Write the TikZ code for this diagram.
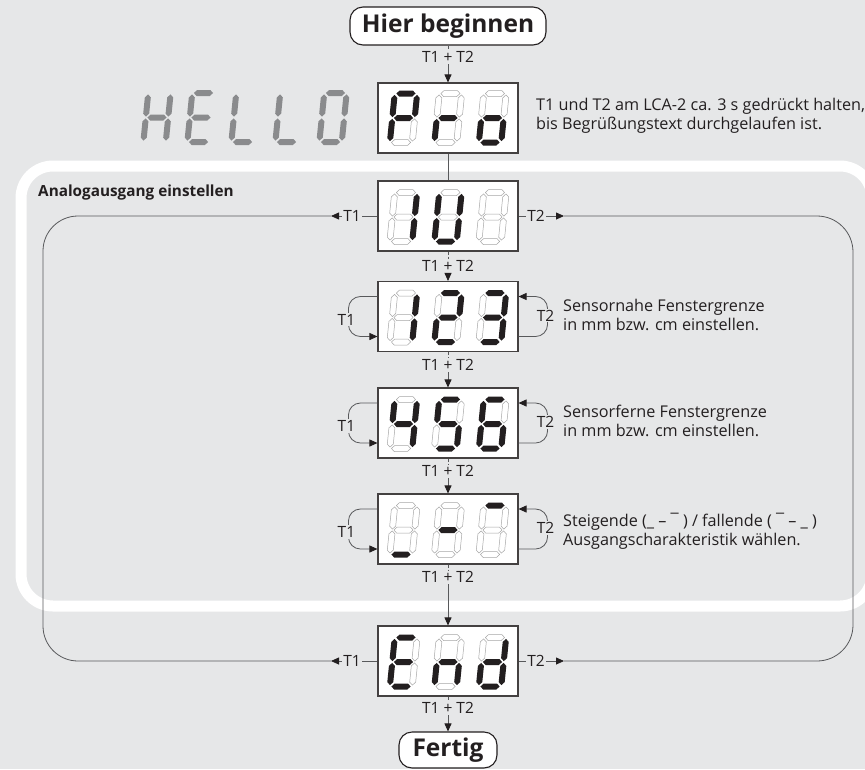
\documentclass[tikz,border=0pt]{standalone}
\usepackage{fontspec}
\setmainfont{Open Sans}
\usetikzlibrary{arrows.meta}
\definecolor{bg}{HTML}{E6E7E8}
\definecolor{hello}{HTML}{8A8B8D}
\definecolor{lineg}{HTML}{58595B}
\definecolor{ink}{HTML}{231F20}
\newcommand\hsegm[2]{\path[#1] (-9.6,#2) -- ++(3,-3) -- ++(13.2,0) -- ++(3,3) -- ++(-3,3) -- ++(-13.2,0) -- cycle;}
\newcommand\vsegm[3]{\path[#1] (#2,#3) -- ++(3,3) -- ++(0,16.2) -- ++(-3,3) -- ++(-3,-3) -- ++(0,-16.2) -- cycle;}
\newcommand\sdigit[9]{\begin{scope}[shift={(#1,#2)},xslant=0.1]
\hsegm{s#3}{-24.5}\vsegm{s#4}{11.2}{-23.1}\vsegm{s#5}{11.2}{0.9}\hsegm{s#6}{24.5}\vsegm{s#7}{-11.2}{0.9}\vsegm{s#8}{-11.2}{-23.1}\hsegm{s#9}{0}\end{scope}}
\newcommand\sideloops[1]{%
\draw[conn, rounded corners=12pt, -{Triangle[length=8pt,width=7pt,color=ink]}] ([yshift=20pt]#1.west) -- ++(-29,0) -- ++(0,40) -- ([yshift=-20pt]#1.west);
\node[tlabel] (#1T1) at ([xshift=-31pt,yshift=-3pt]#1.west) {T1};
\draw[conn, rounded corners=12pt, -{Triangle[length=8pt,width=7pt,color=ink]}] ([yshift=-20pt]#1.east) -- ++(29,0) -- ++(0,-40) -- ([yshift=20pt]#1.east);
\node[tlabel] (#1T2) at ([xshift=27pt,yshift=1pt]#1.east) {T2};}
\begin{document}
\begin{tikzpicture}[x=1pt,y=-1pt,
  conn/.style={draw=lineg, line width=0.8pt},
  arrowc/.style={conn, -{Triangle[length=8pt,width=7pt,color=ink]}},
  dashc/.style={conn, dash pattern=on 3pt off 2pt},
  disp/.style={draw=ink!85, fill=white, line width=1.1pt, minimum width=140pt, minimum height=70pt, inner sep=0pt},
  termbox/.style={draw=ink, fill=white, line width=1.1pt, rounded corners=13pt, inner sep=0pt, font=\fontsize{24.5}{28}\selectfont\bfseries, text=ink},
  tlabel/.style={fill=bg, inner sep=1.2pt, font=\fontsize{15.5}{18}\selectfont, text=ink},
  desc/.style={anchor=west, align=left, inner sep=0pt, font=\fontsize{16.2}{19}\selectfont, text=ink},
  s1/.style={fill=ink},
  s0/.style={fill=white, draw=black!35, line width=0.5pt}]
\useasboundingbox (0,0) rectangle (865,769);
\fill[bg] (0,0) rectangle (865,769);
\begin{scope}
\clip (0,0) rectangle (865,769);
\draw[white, line width=11pt, rounded corners=32pt] (21,166) rectangle (872,606);
\end{scope}
\node[anchor=west, inner sep=0pt, font=\fontsize{15.3}{18}\selectfont\bfseries, text=ink] (title) at (38,193) {Analogausgang einstellen};
% HELLO
\begin{scope}[s1/.style={fill=hello}, s0/.style={}]
\sdigit{157}{117.5}0110111
\sdigit{201}{117.5}1001111
\sdigit{245}{117.5}0001110
\sdigit{289}{117.5}0001110
\sdigit{333}{117.5}1111110
\end{scope}
% terminals and displays
\node[termbox, minimum width=196pt, minimum height=38pt] (start) at (448,26) {Hier beginnen};
\node[disp] (pro) at (448,118) {};
\node[disp] (iu) at (448,216) {};
\node[disp] (d123) at (448,316.5) {};
\node[disp] (d456) at (448,423) {};
\node[disp] (du7) at (448,529) {};
\node[disp] (dend) at (448,661) {};
\node[termbox, minimum width=98pt, minimum height=36pt] (fertig) at (448,750) {Fertig};
% T1 + T2 labels
\node[tlabel] (l0) at (448,57) {T1 + T2};
\node[tlabel] (l1) at (448,266) {T1 + T2};
\node[tlabel] (l2) at (448,365) {T1 + T2};
\node[tlabel] (l3) at (448,471) {T1 + T2};
\node[tlabel] (l4) at (448,577) {T1 + T2};
\node[tlabel] (l5) at (448,708) {T1 + T2};
\draw[dashc] (start.south) -- (l0.north);
\draw[arrowc] (l0.south) -- (pro.north);
\draw[conn] (pro.south) -- (iu.north);
\draw[dashc] (iu.south) -- (l1.north);
\draw[arrowc] (l1.south) -- (d123.north);
\draw[dashc] (d123.south) -- (l2.north);
\draw[arrowc] (l2.south) -- (d456.north);
\draw[dashc] (d456.south) -- (l3.north);
\draw[arrowc] (l3.south) -- (du7.north);
\draw[dashc] (du7.south) -- (l4.north);
\draw[arrowc] (l4.south) -- (dend.north);
\draw[dashc] (dend.south) -- (l5.north);
\draw[arrowc] (l5.south) -- (fertig.north);
% big loops
\node[tlabel, fill=none] (iuT1) at (352,216) {T1};
\node[tlabel, fill=none] (iuT2) at (536,216) {T2};
\node[tlabel, fill=none] (enT1) at (352,661) {T1};
\node[tlabel, fill=none] (enT2) at (536,661) {T2};
\coordinate (lt1) at (331,216);
\coordinate (lt2) at (331,661);
\coordinate (rt1) at (564,216);
\coordinate (rt2) at (564,661);
\coordinate (lc1) at (43,216);
\coordinate (lc2) at (43,661);
\coordinate (rc1) at (853,216);
\coordinate (rc2) at (853,661);
\draw[conn] (iu.west) -- (iuT1.east);
\draw[arrowc] (iuT1.west) -- (lt1);
\draw[conn] (iu.east) -- (iuT2.west);
\draw[arrowc] (iuT2.east) -- (rt1);
\draw[conn] (dend.west) -- (enT1.east);
\draw[arrowc] (enT1.west) -- (lt2);
\draw[conn] (dend.east) -- (enT2.west);
\draw[arrowc] (enT2.east) -- (rt2);
\draw[conn, rounded corners=35pt] (lt1) -- (lc1) -- (lc2) -- (lt2);
\draw[conn, rounded corners=36pt] (rt1) -- (rc1) -- (rc2) -- (rt2);
% small loops
\sideloops{d123}
\sideloops{d456}
\sideloops{du7}
% digits
\sdigit{403.5}{118}1100111
\sdigit{448}{118}0000101
\sdigit{492.5}{118}0011101
\sdigit{403.5}{217}0110000
\sdigit{448}{217}0111110
\sdigit{492.5}{217}0000000
\sdigit{403.5}{317.5}0110000
\sdigit{448}{317.5}1101101
\sdigit{492.5}{317.5}1111001
\sdigit{403.5}{424}0110011
\sdigit{448}{424}1011011
\sdigit{492.5}{424}1011111
\sdigit{403.5}{530}0001000
\sdigit{448}{530}0000001
\sdigit{492.5}{530}1000000
\sdigit{403.5}{662}1001111
\sdigit{448}{662}0010101
\sdigit{492.5}{662}0111101
% descriptions
\node[desc] (t0) at (536,116) {T1 und T2 am LCA-2 ca. 3 s gedrückt halten,\\bis Begrüßungstext durchgelaufen ist.};
\node[desc] (t1) at (563,315) {Sensornahe Fenstergrenze\\in mm bzw. cm einstellen.};
\node[desc] (t2) at (563,421) {Sensorferne Fenstergrenze\\in mm bzw. cm einstellen.};
\node[desc] (t3) at (563,531) {Steigende (\_ – ¯ ) / fallende ( ¯ – \_ )\\Ausgangscharakteristik wählen.};
\end{tikzpicture}
\end{document}
